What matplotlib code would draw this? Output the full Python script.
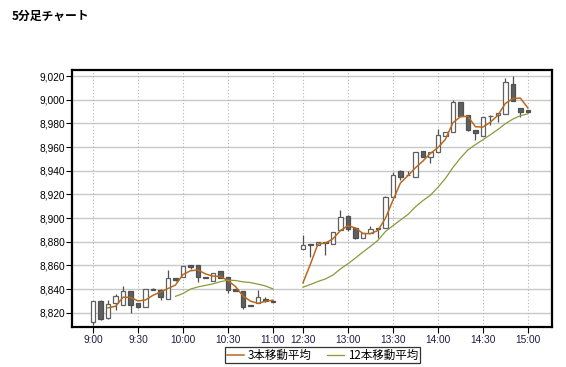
import matplotlib
matplotlib.use("Agg")
import matplotlib.pyplot as plt
import numpy as np
import pandas as pd

plt.rcParams['font.family'] = ['Liberation Sans', 'Noto Sans CJK JP', 'DejaVu Sans']

# ---- data ----
morning_times = [f"{9 + m // 60}:{m % 60:02d}" for m in range(0, 121, 5)]          # 9:00..11:00
afternoon_times = [f"{12 + m // 60}:{m % 60:02d}" for m in range(30, 181, 5)]       # 12:30..15:00
times = morning_times + afternoon_times

opens = [8812, 8830, 8816, 8828.5, 8827, 8838, 8828, 8825, 8840, 8839, 8832, 8849, 8850,
         8860, 8860, 8850.5, 8847, 8855, 8850, 8840, 8838.5, 8827, 8828, 8831.5, 8830,
         8873.5, 8878, 8877, 8879.5, 8878, 8890, 8902, 8892, 8883, 8887, 8891.5, 8892,
         8917.5, 8940, 8936, 8934.5, 8957, 8952, 8956, 8969, 8972.5, 8998, 8987, 8974,
         8969, 8986, 8987, 8988, 9013.5, 8993, 8991]
highs = [8830, 8830.5, 8831, 8835.5, 8842.5, 8838, 8828, 8840.5, 8841, 8840, 8856, 8849, 8859.5,
         8860, 8860, 8850.5, 8853.5, 8855, 8850, 8840, 8838.5, 8827, 8839, 8833.5, 8830,
         8885.5, 8878, 8880, 8879.5, 8888.5, 8907, 8902.5, 8892, 8887, 8893, 8891.5, 8919,
         8939, 8940.5, 8940, 8956, 8957, 8956, 8975, 8973, 9000, 8998, 8987, 8974,
         8985, 8987, 8989, 9018.5, 9020, 8993, 8991]
lows = [8810, 8814, 8815, 8822, 8827, 8820, 8824, 8824.5, 8839, 8831, 8832, 8846.5, 8850,
        8857, 8846, 8849, 8847, 8849, 8837, 8838.5, 8823, 8826, 8828, 8829.5, 8829,
        8873.5, 8867, 8877, 8869, 8878, 8890, 8889, 8882.5, 8883, 8887, 8883.5, 8892,
        8917.5, 8932, 8936, 8934.5, 8951.5, 8946.5, 8956, 8969, 8972.5, 8986, 8973.5, 8966,
        8969, 8979, 8981, 8988, 8999, 8985.5, 8990]
closes = [8830, 8815, 8827.5, 8834, 8838, 8827, 8825, 8840.5, 8839, 8833, 8849.5, 8848, 8859.5,
          8859, 8850, 8849.5, 8853.5, 8849, 8839, 8838.5, 8825, 8826, 8833, 8830, 8829,
          8877, 8877.5, 8880, 8879, 8888.5, 8901, 8891, 8883, 8887, 8890.5, 8891, 8918,
          8936, 8935, 8936.5, 8956, 8952, 8956, 8970.5, 8973, 8998, 8986, 8974, 8971.5,
          8985, 8986.5, 8989, 9015, 8999, 8990, 8990]

tick_labels = ["9:00", "9:30", "10:00", "10:30", "11:00", "12:30", "13:00", "13:30", "14:00", "14:30", "15:00"]
ma_labels = ["3本移動平均", "12本移動平均"]
title = "5分足チャート"


# compressed time scale: lunch break shown as a short gap
def tpos(t):
    h, m = map(int, t.split(":"))
    mins = h * 60 + m
    if mins <= 11 * 60:
        return (mins - 9 * 60) / 5
    return 28 + (mins - (12 * 60 + 30)) / 5


x = np.array([tpos(t) for t in times])
o = np.array(opens); h = np.array(highs); l = np.array(lows); c = np.array(closes)

ma3 = pd.Series(c).rolling(3).mean().to_numpy()
ma12 = pd.Series(c).rolling(12).mean().to_numpy()
nm = len(morning_times)

fig = plt.figure(figsize=(5.66, 3.67), dpi=100)
ax = fig.add_axes([0.128, 0.109, 0.847, 0.700])

# grid
for v in np.arange(8820, 9021, 20):
    ax.axhline(v, color='#c8c8c8', lw=1.0, zorder=0)
for t in tick_labels:
    ax.axvline(tpos(t), color='#b4b4b4', lw=0.8, ls=(0, (1, 2)), zorder=0)

# candles
up = c >= o
ax.vlines(x, l, h, color='#505050', lw=0.9, zorder=2)
bottoms = np.minimum(o, c)
heights = np.abs(c - o)
ax.bar(x[up], heights[up], bottom=bottoms[up], width=0.62, color='white',
       edgecolor='#606060', linewidth=0.9, zorder=3)
ax.bar(x[~up], heights[~up], bottom=bottoms[~up], width=0.62, color='#5f5f5f',
       edgecolor='#505050', linewidth=0.9, zorder=3)

# moving averages (broken at lunch)
c3 = '#b8691c'
c12 = '#8a9a3a'
l3, = ax.plot(x[:nm], ma3[:nm], color=c3, lw=1.1, zorder=4)
ax.plot(x[nm:], ma3[nm:], color=c3, lw=1.1, zorder=4)
l12, = ax.plot(x[:nm], ma12[:nm], color=c12, lw=0.9, zorder=4)
ax.plot(x[nm:], ma12[nm:], color=c12, lw=0.9, zorder=4)

ax.set_xlim(-2.75, 61.2)
ax.set_ylim(8808, 9025)
ax.set_yticks(np.arange(8820, 9021, 20))
ax.set_yticklabels([f"{v:,}" for v in np.arange(8820, 9021, 20)])
ax.set_xticks([tpos(t) for t in tick_labels])
ax.set_xticklabels(tick_labels)
ax.tick_params(axis='y', length=4, width=0.8, labelsize=7.3, colors='black', pad=1.5)
ax.tick_params(axis='x', length=4, width=0.8, labelsize=7.3, pad=2)
for lab in ax.get_xticklabels():
    lab.set_color('#1c1c48')
for s in ax.spines.values():
    s.set_linewidth(1.6)
    s.set_color('black')

fig.text(0.021, 0.955, title, fontsize=8.5, fontweight='bold',
         family=['Noto Sans CJK JP', 'DejaVu Sans'], va='center', ha='left')

leg = fig.legend([l3, l12], ma_labels, loc='center', bbox_to_anchor=(0.570, 0.032),
                 ncol=2, frameon=True, fancybox=False, edgecolor='black',
                 handlelength=1.5, handletextpad=0.35, columnspacing=1.3,
                 borderpad=0.12, borderaxespad=0,
                 prop={'family': ['Noto Sans CJK JP', 'DejaVu Sans'], 'size': 8.3})
leg.get_frame().set_linewidth(0.9)

fig.savefig("out.png", dpi=100, facecolor='white')
